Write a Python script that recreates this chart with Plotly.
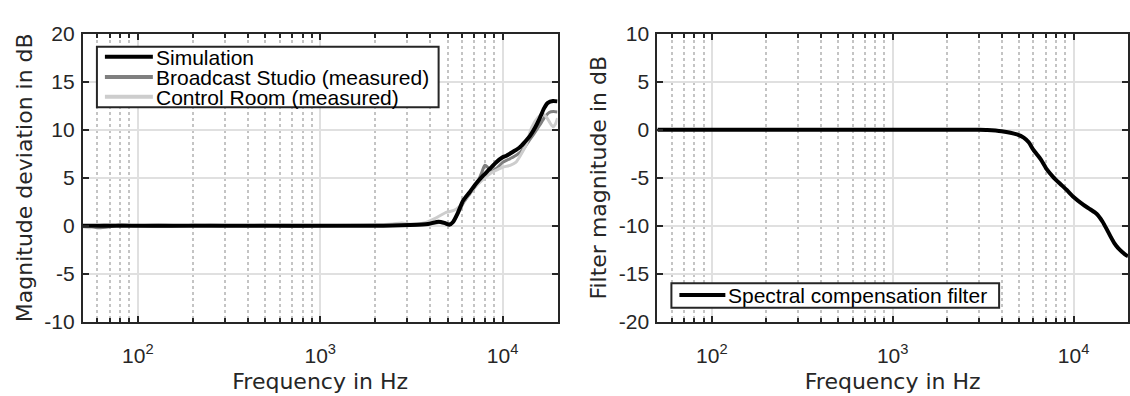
import plotly.graph_objects as go

# --- Left panel: magnitude deviation (dB) vs frequency (Hz) ---
sim_freq = [50, 100, 500, 1000, 2000, 2500, 3100, 3900, 4450, 4800, 5100, 5350,
            5700, 6070, 6600, 7180, 7800, 8500, 9200, 10000, 10500, 11400, 12400,
            13200, 14100, 15000, 15900, 16900, 17700, 18900, 20000]
sim_db = [0, 0, 0, 0, 0, 0.02, 0.08, 0.2, 0.42, 0.3, 0.12, 0.4,
          1.4, 2.6, 3.5, 4.44, 5.2, 5.92, 6.6, 7.13, 7.3, 7.71, 8.15,
          8.7, 9.34, 10.15, 11.1, 12.25, 12.8, 13.0, 12.95]

studio_freq = [50, 60, 70, 80, 100, 150, 200, 300, 500, 700, 1000, 2000, 3000,
               4000, 4500, 5000, 5300, 5700, 6100, 6600, 7200, 7700, 8000, 8400,
               8800, 9300, 10000, 11000, 12000, 13000, 14000, 15000, 16000,
               17000, 18000, 19000, 20000]
studio_db = [0, -0.2, -0.1, 0.1, 0, -0.05, 0.05, 0, 0.05, -0.05, 0, 0.05, 0.05,
             0.2, 0.35, 0.2, 0.3, 1.3, 2.4, 3.3, 4.3, 5.6, 6.3, 6.0,
             5.7, 6.0, 6.6, 7.0, 7.4, 8.0, 8.9, 9.7, 10.5,
             11.3, 11.8, 11.9, 11.85]

control_freq = [50, 55, 65, 100, 130, 170, 250, 400, 600, 1000, 1500, 2000,
                2500, 2800, 3200, 3800, 4300, 4900, 5400, 5800, 6200, 6700,
                7300, 8000, 8800, 9500, 10000, 11000, 11800, 12500, 13500,
                14400, 15500, 16600, 17400, 18200, 18900, 19500, 20000]
control_db = [-0.1, -0.2, 0.1, 0, 0.1, 0, 0.1, -0.05, 0.05, 0, 0.05, 0.1,
              0.2, 0.3, 0.15, 0.35, 0.8, 1.4, 1.6, 2.0, 2.7, 3.5,
              4.3, 5.0, 5.6, 5.9, 6.1, 6.3, 6.6, 7.3, 8.5,
              10.2, 11.2, 11.6, 11.3, 10.7, 10.3, 10.6, 11.2]

# --- Right panel: spectral compensation filter (dB) ---
filt_freq = [50, 1000, 2000, 3000, 3330, 4000, 4860, 5300, 5650, 6000, 6600,
             7100, 7700, 8400, 9200, 10000, 11300, 12400, 13400, 14500, 15300,
             16000, 16800, 17600, 18500, 19500, 20000]
filt_db = [0, 0, 0, 0, -0.02, -0.15, -0.49, -0.82, -1.3, -2.1, -3.1,
           -4.1, -4.9, -5.6, -6.3, -7.0, -7.8, -8.3, -8.75, -9.6, -10.4,
           -11.1, -11.8, -12.3, -12.7, -13.05, -13.15]

x_tickvals = [100, 1000, 10000]
x_ticktext = ["10<sup>2</sup>", "10<sup>3</sup>", "10<sup>4</sup>"]
x_minor = [m * d for d in (10, 100, 1000) for m in range(2, 10) if 50 <= m * d <= 20000]
y1_ticks = [-10, -5, 0, 5, 10, 15, 20]
y2_ticks = [-20, -15, -10, -5, 0, 5, 10]

W, H = 1130, 396
AX_COLOR = "#262626"
SANS = "Liberation Sans, Arial, Helvetica, sans-serif"
TICK_FONT = dict(family=SANS, size=21, color=AX_COLOR)
TITLE_FONT = dict(family="DejaVu Sans, sans-serif", size=22, color=AX_COLOR)
LEGEND_FONT = dict(family=SANS, size=21, color="black")

series = [
    # (x, y, name, colour, width, axes)
    (studio_freq, studio_db, "Broadcast Studio (measured)", "#7f7f7f", 3, ("x", "y")),
    (control_freq, control_db, "Control Room (measured)", "#cdcdcd", 3, ("x", "y")),
    (sim_freq, sim_db, "Simulation", "black", 4, ("x", "y")),
    (filt_freq, filt_db, "Spectral compensation filter", "black", 4, ("x2", "y2")),
]

fig = go.Figure()
for xs, ys, name, color, width, (xa, ya) in series:
    fig.add_trace(go.Scatter(x=xs, y=ys, mode="lines", name=name, showlegend=False,
                             line=dict(color=color, width=width, shape="spline", smoothing=0.6),
                             xaxis=xa, yaxis=ya))


def x_axis(domain, anchor):
    return dict(
        type="log", domain=domain, anchor=anchor, range=[1.69897, 4.30103],
        tickmode="array", tickvals=x_tickvals, ticktext=x_ticktext,
        ticks="inside", ticklen=6, tickwidth=2, tickcolor=AX_COLOR,
        showline=True, linecolor=AX_COLOR, linewidth=2, mirror="ticks",
        showgrid=True, gridcolor="#e0e0e0", gridwidth=2, zeroline=False,
        minor=dict(tickmode="array", tickvals=x_minor, ticks="inside", ticklen=4,
                   tickwidth=2, tickcolor=AX_COLOR, showgrid=True,
                   gridcolor="#c4c4c4", gridwidth=2, griddash="dot"),
        tickfont=TICK_FONT, ticklabelstandoff=14,
        title=dict(text="Frequency in Hz", font=TITLE_FONT, standoff=8),
    )


def y_axis(domain, anchor, ticks, title):
    return dict(
        domain=domain, anchor=anchor, range=[ticks[0], ticks[-1]],
        tickmode="array", tickvals=ticks, ticktext=[str(t) for t in ticks],
        ticks="inside", ticklen=6, tickwidth=2, tickcolor=AX_COLOR,
        showline=True, linecolor=AX_COLOR, linewidth=2, mirror="ticks",
        showgrid=True, gridcolor="#e0e0e0", gridwidth=2, zeroline=False,
        tickfont=TICK_FONT, ticklabelstandoff=2,
        title=dict(text=title, font=TITLE_FONT, standoff=6),
    )


def px_x(v):
    return v / W


def px_y(v):
    return 1 - v / H


shapes = []
annotations = []


def add_legend(box, entries):
    """box = (x0, y0, x1, y1) in pixels; entries = [(name, colour, width, y_px)]."""
    x0, y0, x1, y1 = box
    shapes.append(dict(type="rect", xref="paper", yref="paper",
                       x0=px_x(x0), x1=px_x(x1), y0=px_y(y1), y1=px_y(y0),
                       fillcolor="white", line=dict(color=AX_COLOR, width=2)))
    for name, color, width, yy, lx0, lx1 in entries:
        shapes.append(dict(type="line", xref="paper", yref="paper",
                           x0=px_x(lx0), x1=px_x(lx1), y0=px_y(yy), y1=px_y(yy),
                           line=dict(color=color, width=width)))
        annotations.append(dict(text=name, xref="paper", yref="paper",
                                x=px_x(lx1 + 1), y=px_y(yy + 1), xanchor="left",
                                yanchor="middle", showarrow=False, font=LEGEND_FONT))


add_legend((97, 37, 439, 101), [
    ("Simulation", "black", 4, 47.5, 105, 153),
    ("Broadcast Studio (measured)", "#7f7f7f", 4, 69, 105, 153),
    ("Control Room (measured)", "#cdcdcd", 4, 90, 105, 153),
])
add_legend((672, 288, 1000, 314), [
    ("Spectral compensation filter", "black", 4, 300.5, 680, 726),
])

y_dom = [67 / H, 373 / H]
fig.update_layout(
    width=W, height=H, autosize=False,
    margin=dict(l=0, r=0, t=0, b=0),
    paper_bgcolor="white", plot_bgcolor="white",
    xaxis=x_axis([83 / W, 558 / W], "y"),
    yaxis=y_axis(y_dom, "x", y1_ticks, "Magnitude deviation in dB"),
    xaxis2=x_axis([658 / W, 1129 / W], "y2"),
    yaxis2=y_axis(y_dom, "x2", y2_ticks, "Filter magnitude in dB"),
    shapes=shapes, annotations=annotations,
    showlegend=False,
)

fig.write_html("out.html")
